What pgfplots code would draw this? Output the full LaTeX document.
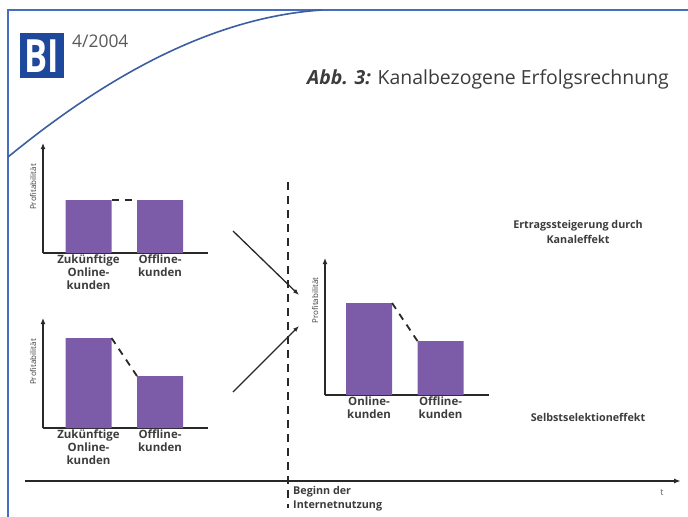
\documentclass[border=0pt]{standalone}
\usepackage{pgfplots}
\pgfplotsset{compat=1.18}
\usepackage{fontspec}
\setmainfont{Open Sans}
\newfontfamily\labfont{Open Sans}
\usetikzlibrary{arrows.meta}
\definecolor{barpurple}{RGB}{124,92,168}
\definecolor{axisgray}{RGB}{40,40,40}
\definecolor{labgray}{RGB}{60,60,60}
\definecolor{frameblue}{RGB}{70,110,190}
\definecolor{logoblue}{RGB}{30,72,155}

\pgfplotsset{panel/.style={
  scale only axis, xmin=0, ymin=0,
  axis x line=bottom, axis y line=left,
  axis line style={line width=1.8bp, draw=axisgray},
  x axis line style={-},
  y axis line style={-{Latex[length=6bp,width=5bp]}},
  ytick=\empty, major tick length=0pt,
  xtick style={draw=none},
  xticklabel style={align=center, font=\labfont\bfseries\fontsize{11.5}{13}\selectfont, text=labgray, inner sep=1.5bp},
  ylabel={Profitabilität},
  ylabel style={font=\labfont\fontsize{8}{9}\selectfont, text=labgray, anchor=center},
  clip=false,
}}

\begin{document}
\begin{tikzpicture}
\useasboundingbox (0,0) rectangle (688bp,-517bp);

% top-left panel: before Internet use, equal profitability
\begin{axis}[panel, at={(43bp,-253bp)}, anchor=south west,
  width=165bp, height=110bp, xmax=165, ymax=110,
  xtick={45.5,117},
  xticklabels={{Zukünftige\\Online-\\kunden},{Offline-\\kunden}},
  ylabel style={at={(axis description cs:-0.06,0.6)}}]
\addplot[ybar, bar width=46, bar shift=0pt, fill=barpurple, draw=none] coordinates {(45.5,53) (117,53)};
\addplot[axisgray, line width=1.8bp, dash pattern=on 7bp off 6bp] coordinates {(68.5,53) (94,53)};
\end{axis}

% bottom-left panel: self-selection
\begin{axis}[panel, at={(43bp,-428bp)}, anchor=south west,
  width=165bp, height=110bp, xmax=165, ymax=110,
  xtick={45.5,117},
  xticklabels={{Zukünftige\\Online-\\kunden},{Offline-\\kunden}},
  ylabel style={at={(axis description cs:-0.06,0.6)}}]
\addplot[ybar, bar width=46, bar shift=0pt, fill=barpurple, draw=none] coordinates {(45.5,90) (117,52)};
\addplot[axisgray, line width=1.8bp, dash pattern=on 7bp off 6bp] coordinates {(68.5,90) (94,52)};
\end{axis}

% middle panel: after Internet use
\begin{axis}[panel, at={(325bp,-395bp)}, anchor=south west,
  width=164bp, height=137bp, xmax=164, ymax=137,
  xtick={44,115.5},
  xticklabels={{Online-\\kunden},{Offline-\\kunden}},
  ylabel style={at={(axis description cs:-0.06,0.69)}}]
\addplot[ybar, bar width=46, bar shift=0pt, fill=barpurple, draw=none] coordinates {(44,92) (115.5,54)};
\addplot[axisgray, line width=1.8bp, dash pattern=on 7bp off 6bp] coordinates {(67,92) (92.5,54)};
\end{axis}

\begin{scope}[x=1bp,y=-1bp]
% frame and decorative curve
\draw[frameblue, line width=2bp] (8,517) -- (8,10) -- (688,10);
\draw[frameblue!85!black, line width=1.6bp] (8,157) .. controls (90,90) and (200,18) .. (322,10);
% logo
\fill[logoblue] (20,33) rectangle (64,78);
\node[text=white, font=\bfseries\fontsize{46}{46}\selectfont, xscale=0.75, inner sep=0] at (42,56) {BI};
\node[anchor=base west, text=black!65, font=\fontsize{17.5}{19}\selectfont, inner sep=0] at (72,47) {4/2004};
% title
\node[anchor=base east, text=labgray, font=\fontsize{19.5}{21}\selectfont, inner sep=0] at (669,84) {\textbf{\textit{Abb. 3:}} Kanalbezogene Erfolgsrechnung};
% vertical dashed line
\draw[axisgray, line width=1.6bp, dash pattern=on 8bp off 6bp] (288,182) -- (288,508);
% arrows
\draw[axisgray, line width=1.3bp, -{Latex[length=6bp,width=4.5bp]}] (233,231) -- (299,295);
\draw[axisgray, line width=1.3bp, -{Latex[length=6bp,width=4.5bp]}] (233,392) -- (299,326);
% time axis
\draw[axisgray, line width=1.8bp, -{Latex[length=7bp,width=5bp]}] (25,481) -- (681,481);
\node[anchor=base, text=black!60, font=\fontsize{9}{10}\selectfont, inner sep=0] at (662,495) {t};
\node[anchor=base west, text=labgray, font=\labfont\bfseries\fontsize{10.8}{12}\selectfont, inner sep=0] at (293,494) {Beginn der};
\node[anchor=base west, text=labgray, font=\labfont\bfseries\fontsize{10.8}{12}\selectfont, inner sep=0] at (293,508) {Internetnutzung};
% effect labels
\node[anchor=base, text=labgray, font=\labfont\bfseries\fontsize{10.8}{12}\selectfont, inner sep=0] at (578,228) {Ertragssteigerung durch};
\node[anchor=base, text=labgray, font=\labfont\bfseries\fontsize{10.8}{12}\selectfont, inner sep=0] at (578,243) {Kanaleffekt};
\node[anchor=base, text=labgray, font=\labfont\bfseries\fontsize{10.8}{12}\selectfont, inner sep=0] at (588,421) {Selbstselektioneffekt};
\end{scope}
\end{tikzpicture}
\end{document}
